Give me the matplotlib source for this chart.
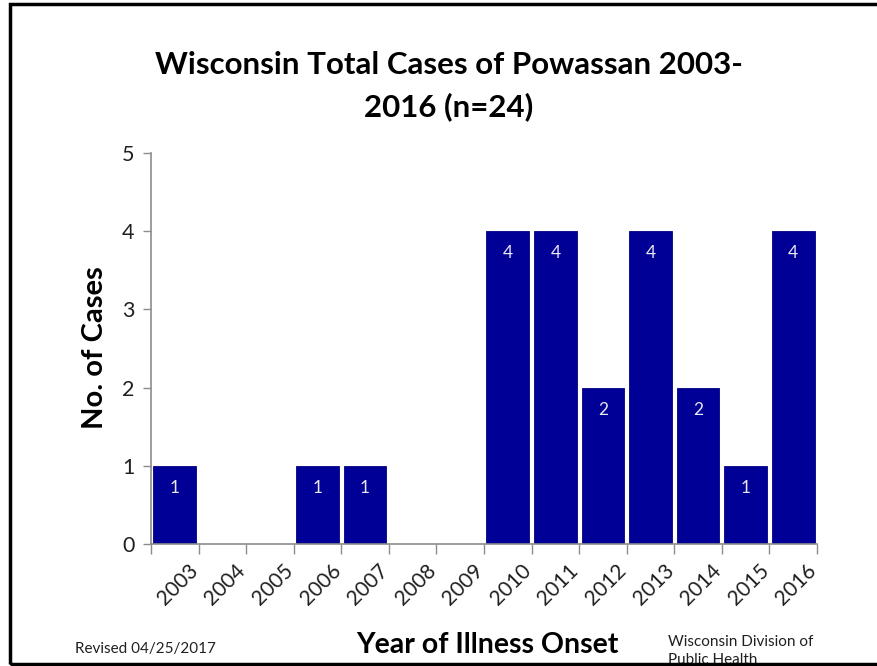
import matplotlib
matplotlib.use("Agg")
import matplotlib.pyplot as plt
from matplotlib.patches import Rectangle
from matplotlib.transforms import ScaledTranslation
import numpy as np

# Powassan cases reported in Wisconsin, by year of illness onset
years = ["2003", "2004", "2005", "2006", "2007", "2008", "2009",
         "2010", "2011", "2012", "2013", "2014", "2015", "2016"]
cases = [1, 0, 0, 1, 1, 0, 0, 4, 4, 2, 4, 2, 1, 4]
y_ticks = [0, 1, 2, 3, 4, 5]

title = "Wisconsin Total Cases of Powassan 2003-\n2016 (n=24)"
x_label = "Year of Illness Onset"
y_label = "No. of Cases"
note_left = "Revised 04/25/2017"
note_right = "Wisconsin Division of\nPublic Health"

plt.rcParams["font.family"] = ["Lato", "DejaVu Sans"]

W, H = 877, 666
fig = plt.figure(figsize=(W / 100, H / 100), dpi=100)
fig.patch.set_facecolor("white")

ax = fig.add_axes([151 / W, 1 - 544 / H, (817 - 151) / W, (544 - 153) / H])

x = np.arange(len(years))
bars = ax.bar(x, cases, width=0.9, color="#000096", edgecolor="#000080",
              linewidth=0.6, zorder=2)

for xi, v in zip(x, cases):
    if v > 0:
        ax.annotate(str(v), (xi, v), xytext=(0, -16), textcoords="offset points",
                    ha="center", va="center", color="#e8e8ee", fontsize=12.5)

ax.set_xlim(-0.5, len(years) - 0.5)
ax.set_ylim(0, 5)
ax.set_yticks(y_ticks)
ax.set_yticklabels([str(t) for t in y_ticks], fontsize=15.5, color="#202020")

# tick marks at category boundaries, labels centred under the bars
ax.set_xticks(np.arange(-0.5, len(years), 1.0))
ax.set_xticklabels([])
ax.set_xticks(x, minor=True)
ax.set_xticklabels(years, minor=True, rotation=45, ha="right",
                   rotation_mode="anchor", fontsize=15, color="#202020")
ax.tick_params(axis="x", which="minor", length=0, pad=12)
ax.tick_params(axis="x", which="major", length=7, width=1, color="#8c8c8c",
               direction="out")
ax.tick_params(axis="y", length=6, width=1, color="#8c8c8c", direction="out", pad=6)
shift = ScaledTranslation(13 / 100, 0, fig.dpi_scale_trans)
for lbl in ax.get_xticklabels(minor=True):
    lbl.set_transform(lbl.get_transform() + shift)

for s in ["top", "right"]:
    ax.spines[s].set_visible(False)
for s in ["left", "bottom"]:
    ax.spines[s].set_color("#8c8c8c")
    ax.spines[s].set_linewidth(1.2)

fig.text(449 / W, 1 - 86 / H, title, ha="center", va="center", fontsize=22.5,
         fontweight="bold", linespacing=1.55)
fig.text(95 / W, 1 - 348 / H, y_label, ha="center", va="center", rotation=90,
         fontsize=21, fontweight="bold")
fig.text(487 / W, 1 - 645 / H, x_label, ha="center", va="center", fontsize=20.5,
         fontweight="bold")
fig.text(75 / W, 1 - 649 / H, note_left, ha="left", va="center", fontsize=11,
         color="#202020")
fig.text(668 / W, 1 - 651 / H, note_right, ha="left", va="center", fontsize=11,
         color="#202020", linespacing=1.45)

# outer frame (runs off the right edge)
fig.patches.append(Rectangle((10 / W, 1 - 664 / H), 1.2, (664 - 4) / H,
                             transform=fig.transFigure, fill=False,
                             edgecolor="black", linewidth=2.5, zorder=11))
# mask below the frame
fig.patches.append(Rectangle((0, 0), 1, 1 - 664 / H, transform=fig.transFigure,
                             facecolor="white", edgecolor="none", zorder=10))

fig.savefig("out.png", dpi=100)
